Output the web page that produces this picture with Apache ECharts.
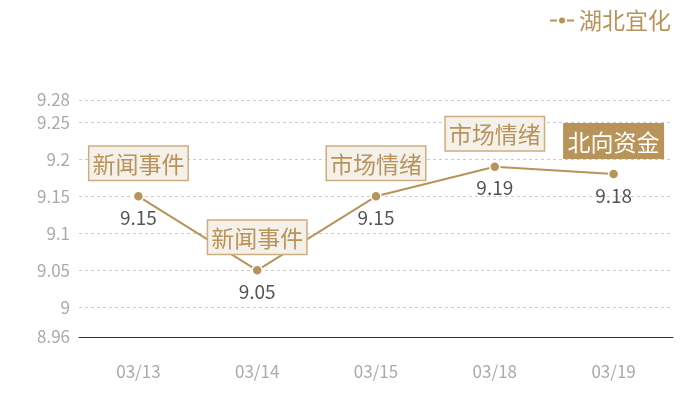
<!DOCTYPE html>
<html lang="zh">
<head>
<meta charset="UTF-8">
<title>湖北宜化</title>
<script src="https://cdn.jsdelivr.net/npm/echarts@6/dist/echarts.min.js"></script>
<style>
  html, body { margin: 0; padding: 0; background: #fff; }
  #main { width: 700px; height: 400px; }
</style>
</head>
<body>
<div id="main"></div>
<script type="text/javascript">
// 数据
var dates = ['03/13', '03/14', '03/15', '03/18', '03/19'];
var prices = [9.15, 9.05, 9.15, 9.19, 9.18];
var events = ['新闻事件', '新闻事件', '市场情绪', '市场情绪', '北向资金'];
var highlightIndex = 4; // 北向资金 高亮
var seriesName = '湖北宜化';
var yMin = 8.96, yMax = 9.28;

var gold = '#b8935a';
var font = '"Noto Sans CJK SC", "Noto Sans", sans-serif';

// 事件标签数据
var eventData = prices.map(function (v, i) {
    var hl = i === highlightIndex;
    return {
        value: v,
        label: {
            backgroundColor: hl ? gold : '#f4f0ea',
            borderColor: hl ? gold : '#cfae7e',
            color: hl ? '#fff' : gold
        }
    };
});

var myChart = echarts.init(document.getElementById('main'));
myChart.setOption({
    animation: false,
    textStyle: { fontFamily: font },
    legend: {
        data: [seriesName],
        right: 24,
        top: 4,
        itemWidth: 24,
        itemHeight: 10,
        itemGap: 6,
        textStyle: { color: gold, fontSize: 23, fontFamily: font }
    },
    grid: { left: 79, right: 27, top: 100, bottom: 63 },
    xAxis: {
        type: 'category',
        data: dates,
        axisLine: { lineStyle: { color: '#333', width: 1 } },
        axisTick: { show: false },
        axisLabel: { color: '#aaa', fontSize: 17, margin: 26, fontFamily: font }
    },
    yAxis: {
        type: 'value',
        min: yMin,
        max: yMax,
        axisLine: { show: false },
        axisTick: { show: false },
        axisLabel: { color: '#aaa', fontSize: 17, margin: 9, fontFamily: font },
        splitLine: { lineStyle: { color: '#ccc', type: [3, 3] } }
    },
    series: [
        {
            name: seriesName,
            type: 'line',
            data: prices,
            symbol: 'circle',
            symbolSize: 10,
            itemStyle: { color: gold, borderColor: '#fff', borderWidth: 1.5 },
            lineStyle: { color: gold, width: 2 },
            label: {
                show: true,
                position: 'bottom',
                distance: 6,
                color: '#555',
                fontSize: 19,
                fontFamily: font
            },
            z: 3
        },
        {
            name: 'events',
            type: 'scatter',
            data: eventData,
            symbolSize: 1,
            itemStyle: { color: 'rgba(0,0,0,0)', opacity: 1 },
            label: {
                show: true,
                position: 'top',
                distance: 16,
                fontSize: 23,
                fontFamily: font,
                borderWidth: 1.5,
                padding: [6, 3, 4, 3],
                formatter: function (p) { return events[p.dataIndex]; }
            },
            silent: true,
            z: 4
        }
    ]
});
</script>
</body>
</html>
